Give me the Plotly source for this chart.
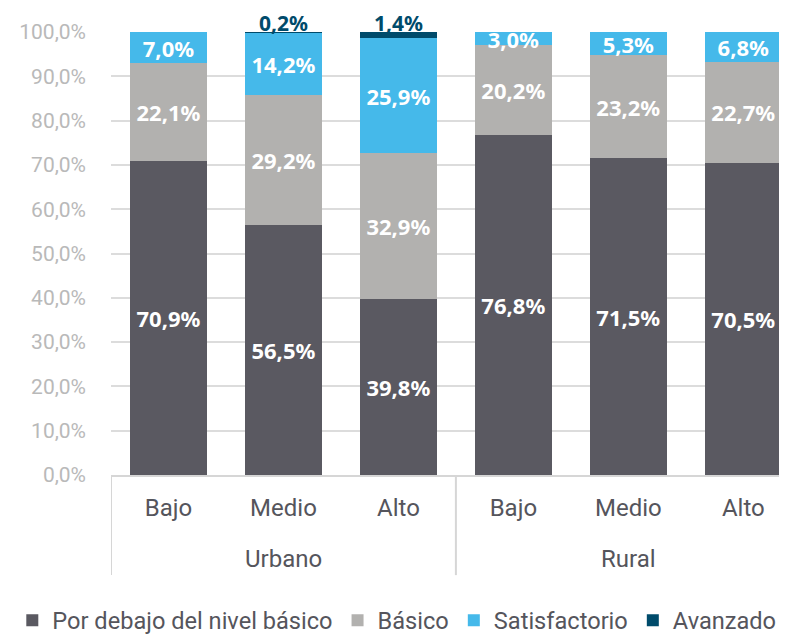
import plotly.graph_objects as go

zonas = ['Urbano', 'Rural']
niveles_ses = ['Bajo', 'Medio', 'Alto', 'Bajo', 'Medio', 'Alto']
categorias = ['Urbano Bajo', 'Urbano Medio', 'Urbano Alto', 'Rural Bajo', 'Rural Medio', 'Rural Alto']

debajo = [70.9, 56.5, 39.8, 76.8, 71.5, 70.5]
basico = [22.1, 29.2, 32.9, 20.2, 23.2, 22.7]
satisfactorio = [7.0, 14.2, 25.9, 3.0, 5.3, 6.8]
avanzado = [0.0, 0.2, 1.4, 0.0, 0.0, 0.0]

colores = ['#5a5961', '#b2b1af', '#45b9ea', '#004b6b']
nombres = ['Por debajo del nivel básico', 'Básico', 'Satisfactorio', 'Avanzado']


def fmt(v):
    return ('%.1f%%' % v).replace('.', ',')


fig = go.Figure()

for serie, nombre, color in zip([debajo, basico, satisfactorio], nombres[:3], colores[:3]):
    fig.add_trace(go.Bar(x=categorias, y=serie, name=nombre, marker_color=color,
                         marker_line_width=0,
                         text=[fmt(v) for v in serie], textposition='inside',
                         insidetextanchor='middle', textangle=0,
                         textfont=dict(family='Noto Sans', size=22, color='white', weight='bold')))

# avanzado: sin texto interno, la etiqueta va encima de la columna
fig.add_trace(go.Bar(x=categorias, y=avanzado, name=nombres[3], marker_color=colores[3],
                     marker_line_width=0, textposition='none'))

totales = [min(a + b + c + d, 100) for a, b, c, d in zip(debajo, basico, satisfactorio, avanzado)]
for cat, tot, v in zip(categorias, totales, avanzado):
    if v > 0:
        fig.add_annotation(x=cat, y=tot, text=fmt(v), showarrow=False,
                           yanchor='bottom', yshift=-6, borderpad=0,
                           font=dict(family='Noto Sans', size=21, color=colores[3], weight='bold'))

# etiquetas de zona y separadores
for i, zona in enumerate(zonas):
    fig.add_annotation(x=categorias[3 * i + 1], y=-0.19, xref='x', yref='paper',
                       text=zona, showarrow=False, yanchor='middle',
                       font=dict(family='Roboto', size=24, color='#55555c'))
    fig.add_shape(type='line', xref='x', yref='paper', x0=3 * i - 0.5, x1=3 * i - 0.5,
                  y0=0, y1=-0.226, line=dict(color='#d6d6d6', width=2))

# la página tiene 8px de margen en el body
fig.update_layout(
    barmode='stack', bargap=0.33,
    width=779, height=627,
    margin=dict(l=103, r=0, t=24, b=160, autoexpand=False),
    plot_bgcolor='white', paper_bgcolor='white',
    separators=',.',
    uniformtext=dict(minsize=22, mode='show'),
    legend=dict(orientation='h', x=-0.146, xanchor='left', y=-0.328, yanchor='middle',
                font=dict(family='Roboto', size=23.6, color='#55555c'),
                itemwidth=30, traceorder='normal'),
    showlegend=True,
)
fig.update_yaxes(range=[0, 100], dtick=10, tickformat='.1f', ticksuffix='%',
                 showgrid=True, gridcolor='#dcdcdc', gridwidth=2, zeroline=False,
                 tickfont=dict(family='Roboto', size=21, color='#b9b9b9'),
                 ticklabelstandoff=24, automargin=False)
fig.update_xaxes(range=[-0.5, 5.38], showline=True, linecolor='#d6d6d6', linewidth=2,
                 tickvals=categorias, ticktext=niveles_ses,
                 tickfont=dict(family='Roboto', size=24, color='#55555c'),
                 ticklabelstandoff=10, automargin=False)

fig.write_html('out.html')
